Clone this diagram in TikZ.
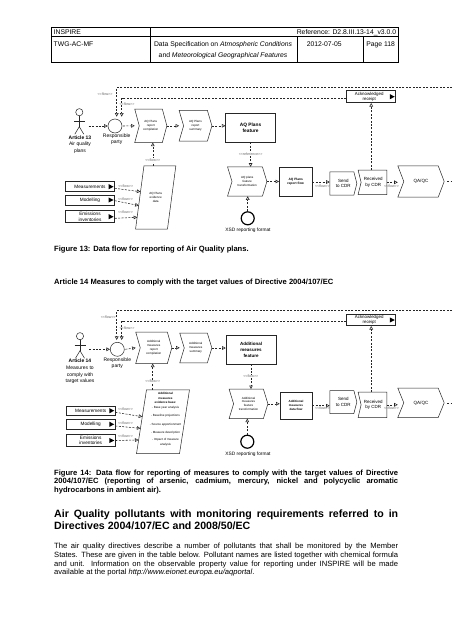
\documentclass[tikz,border=0pt]{standalone}
\usepackage{fontspec}
\setmainfont{Liberation Sans}
\usetikzlibrary{arrows.meta,calc}
\newcommand{\chev}[2]{\draw[shp] (#1.north west) -- ([xshift=-#2pt]#1.north east) -- (#1.east) -- ([xshift=-#2pt]#1.south east) -- (#1.south west) -- ([xshift=#2pt]#1.west) -- cycle;}
\newcommand{\parashp}[2]{\draw[shp] ([xshift=#2pt]#1.north west) -- ([xshift=#2pt]#1.north east) -- ([xshift=-#2pt]#1.south east) -- ([xshift=-#2pt]#1.south west) -- cycle;}
\newcommand{\sendshp}[2]{\draw[shp] (#1.north west) -- ([xshift=-#2pt]#1.north east) -- (#1.east) -- ([xshift=-#2pt]#1.south east) -- (#1.south west) -- cycle;}
\newcommand{\recvshp}[2]{\draw[shp] (#1.north west) -- (#1.north east) -- (#1.south east) -- (#1.south west) -- ([xshift=#2pt]#1.west) -- cycle;}
\newcommand{\blktri}[1]{\fill ([xshift=-6.2pt,yshift=2.6pt]#1.east) -- ([xshift=-1.2pt]#1.east) -- ([xshift=-6.2pt,yshift=-2.6pt]#1.east) -- cycle;}
\newcommand{\actorfig}[2]{%
  \draw[shp] (#1,#2) circle (3.6pt);
  \draw[shp] (#1,#2+3.6) -- (#1,#2+14.5);
  \draw[shp] (#1-5.3,#2+9.5) -- (#1+5.5,#2+9.5);
  \draw[shp] (#1-4.5,#2+22) -- (#1,#2+14.5) -- (#1+4.5,#2+22);}
\newcommand{\flw}{<\kern0pt<flow>\kern0pt>}
\newcommand{\rfr}{<\kern0pt<reference>\kern0pt>}
\begin{document}
\begin{tikzpicture}[x=1pt,y=-1pt,
  shp/.style={draw=black!85, line width=0.5pt},
  flowln/.style={draw=black!85, dash pattern=on 2pt off 1.4pt, line width=0.55pt, -{Triangle[open,length=3.6pt,width=3.6pt]}},
  dashln/.style={draw=black!85, dash pattern=on 2pt off 1.4pt, line width=0.55pt},
  flbl/.style={font=\fontsize{3.6}{4}\selectfont, text=black!60, inner sep=0.4pt},
  box/.style={inner sep=0pt, align=center},
  ptxt/.style={font=\fontsize{3}{3.8}\selectfont},
  inbox/.style={draw=black!85, line width=0.5pt, inner sep=0pt, align=center, minimum width=49pt, font=\fontsize{4.7}{5.4}\selectfont},
  hdr/.style={inner sep=0pt, font=\fontsize{6.8}{8}\selectfont},
  lbl/.style={inner sep=0pt, align=center, font=\fontsize{5}{6.6}\selectfont},
  cdr/.style={box, font=\fontsize{4.5}{5.4}\selectfont},
  ackb/.style={draw=black!85, line width=0.5pt, box, minimum width=49pt, font=\fontsize{4.4}{5}\selectfont},
  xsd/.style={circle, draw=black, line width=1.2pt, minimum size=13pt, inner sep=0pt},
  party/.style={circle, draw=black!85, line width=0.5pt, minimum size=14pt, inner sep=0pt}
]
\useasboundingbox (0,0) rectangle (452,640);
\fill[white] (0,0) rectangle (452,640);

% ---------------- header table
\draw[line width=0.6pt] (51.5,27.7) rectangle (398,62.3);
\draw[line width=0.5pt] (51.5,36.7) -- (398,36.7);
\draw[line width=0.5pt] (150.5,27.7) -- (150.5,62.3);
\draw[line width=0.5pt] (297.7,36.7) -- (297.7,62.3);
\draw[line width=0.5pt] (363.3,36.7) -- (363.3,62.3);
\node[hdr, anchor=base west] (h1) at (53.5,34.3) {INSPIRE};
\node[hdr, anchor=base east] (h2) at (396.3,34.3) {Reference: D2.8.III.13-14\_v3.0.0};
\node[hdr, anchor=base west] (h3) at (53.5,46.7) {TWG-AC-MF};
\node[hdr, anchor=base] (h4) at (223,46.7) {Data Specification on \textit{Atmospheric Conditions}};
\node[hdr, anchor=base] (h5) at (223,57.6) {and \textit{Meteorological Geographical Features}};
\node[hdr, anchor=base] (h6) at (324.2,46.7) {2012-07-05};
\node[hdr, anchor=base] (h7) at (380.7,46.7) {Page 118};

% ================= FIGURE 13
\actorfig{79.3}{112.2}
\node[inner sep=0pt, minimum width=12pt, minimum height=26pt] (a1) at (79.5,121) {};
\node[lbl, anchor=north] (a1t) at (80,135.3) {\textbf{Article 13}\\Air quality\\plans};
\node[party] (c1) at (115,126) {};
\node[lbl, anchor=north, font=\fontsize{5}{5.7}\selectfont] (c1t) at (116.7,134) {Responsible\\party};

\node[box, ptxt, minimum width=31.7pt, minimum height=33pt] (p1) at (150.8,125.8) {AQ Plans\\report\\compilation};
\chev{p1}{4.5}
\node[box, ptxt, minimum width=32.4pt, minimum height=30.3pt] (p2) at (195.5,125.8) {AQ Plans\\report\\summary};
\chev{p2}{4.5}
\node[shp, box, minimum width=49.8pt, minimum height=28.7pt, font=\fontsize{4.8}{5.8}\selectfont\bfseries] (f1) at (250.6,127.7) {AQ Plans\\feature};

\node[box, ptxt, minimum width=31.5pt, minimum height=63pt] (e1) at (155.7,197.5) {AQ Plans\\evidence\\data};
\parashp{e1}{4.2}

\node[inbox, minimum height=10pt] (m1) at (90,186.7) {Measurements};
\node[inbox, minimum height=10pt] (mo1) at (90,200) {Modelling};
\node[inbox, minimum height=12pt] (em1) at (90,216.7) {Emissions\\inventories};
\blktri{m1}\blktri{mo1}\blktri{em1}

\node[box, ptxt, minimum width=39pt, minimum height=29pt] (t1) at (247.2,181.5) {AQ plans\\feature\\transformation};
\chev{t1}{4.5}
\node[xsd] (x1) at (247.7,218.3) {};
\node[lbl, font=\fontsize{4.8}{5.5}\selectfont] (x1t) at (248,230.7) {XSD reporting format};
\node[shp, box, minimum width=32.7pt, minimum height=29.4pt, font=\fontsize{3.2}{4}\selectfont\bfseries] (rf1) at (295.7,182) {AQ Plans\\report flow};
\node[cdr, minimum width=26.7pt, minimum height=23pt] (s1) at (343.3,183.5) {Send\\to CDR};
\sendshp{s1}{3}
\node[cdr, minimum width=28.4pt, minimum height=24pt] (rc1) at (372.5,182.3) {\hspace*{1.5pt}Received\\\hspace*{1.5pt}by CDR};
\recvshp{rc1}{3}
\node[box, font=\fontsize{4.6}{5.4}\selectfont, minimum width=46pt, minimum height=31pt] (q1) at (421,181.5) {QA/QC};
\chev{q1}{6}
\node[ackb, minimum height=12pt] (ack1) at (371.2,96.7) {Acknowledged\hspace*{4pt}\\receipt\hspace*{4pt}};
\blktri{ack1}

% connectors fig 13
\coordinate (rt1) at (452,87.3);
\draw[flowln] (rt1) -| ([xshift=1.7pt,yshift=2pt]c1.north);
\draw[flowln] ([yshift=-1.6pt]ack1.west) -| ([xshift=6.7pt,yshift=2pt]c1.north);
\node[flbl] (l11) at (105,94.6) {\flw};
\node[flbl] (l12) at (127,104.6) {\flw};
\draw[flowln] ([xshift=3pt]a1.east |- c1.west) -- (c1.west);
\draw[flowln] ([xshift=0.8pt]c1.east) -- (p1.west);
\draw[flowln] (p1.east) -- (p2.west);
\draw[flowln] (p2.east) -- (p2.east -| f1.west);
\draw[flowln] ([xshift=2pt]p1.south |- e1.north) -- ([xshift=2pt]p1.south);
\node[flbl, fill=white] (l13) at (152.8,160) {\flw};
\coordinate (e1a) at (140.5,191.7);
\coordinate (e1b) at (138.8,205.5);
\coordinate (e1c) at (137.3,217.3);
\draw[flowln] ([yshift=-1.6pt]m1.east) -- (e1a);
\draw[flowln] ([yshift=-0.7pt]mo1.east) -- (e1b);
\draw[flowln] ([yshift=-1.6pt]em1.east) -- (e1c);
\node[flbl] (l14) at (125.7,186.2) {\flw};
\node[flbl] (l15) at (125.5,199) {\flw};
\node[flbl] (l16) at (125.5,212) {\flw};
\draw[flowln] (f1.south) -- (f1.south |- t1.north);
\node[flbl, fill=white] (l17) at (250.6,154.3) {\rfr};
\draw[flowln] (x1.north) -- (x1.north |- t1.south);
\draw[flowln] (t1.east) -- (t1.east -| rf1.west);
\draw[flowln] (rf1.east) -- (rf1.east -| s1.west);
\node[flbl] (l18) at (322.5,186.5) {\flw};
\draw[flowln] (rc1.east) -- (rc1.east -| q1.west);
\node[flbl] (l19) at (391.5,186.5) {\flw};
\draw[flowln] (ack1.south |- rc1.north) -- (ack1.south);
\coordinate (q1o) at (452,181.5);
\draw[dashln] ([xshift=3pt]q1.east) -- (q1o);

% ---------------- captions
\node[inner sep=0pt, anchor=base west, font=\fontsize{7.6}{8.4}\selectfont\bfseries] (cap13) at (54,251) {Figure 13: Data flow for reporting of Air Quality plans.};
\node[inner sep=0pt, anchor=base west, font=\fontsize{7.6}{8.4}\selectfont\bfseries] (art14) at (54,284.4) {Article 14 Measures to comply with the target values of Directive 2004/107/EC};

% ================= FIGURE 14
\actorfig{80}{336.2}
\node[inner sep=0pt, minimum width=12pt, minimum height=26pt] (a2) at (80,345.5) {};
\node[lbl, anchor=north, font=\fontsize{5}{6.7}\selectfont] (a2t) at (80,359) {\textbf{Article 14}\\Measures to\\comply with\\target values};
\node[party] (c2) at (117.3,349.3) {};
\node[lbl, anchor=north, font=\fontsize{5}{5.9}\selectfont] (c2t) at (117.3,357.4) {Responsible\\party};

\node[box, ptxt, minimum width=35.7pt, minimum height=31pt] (p3) at (153.8,347.8) {Additional\\measures\\report\\compilation};
\chev{p3}{4.5}
\node[box, ptxt, minimum width=31.7pt, minimum height=29.4pt] (p4) at (195.8,348) {Additional\\measures\\summary};
\chev{p4}{4.5}
\node[shp, box, minimum width=50pt, minimum height=28.3pt, font=\fontsize{4.5}{5.8}\selectfont\bfseries] (f2) at (251,349.8) {Additional\\measures\\feature};

\node[box, minimum width=42.6pt, minimum height=63.5pt] (e2) at (163,421.7) {};
\parashp{e2}{5}
\node[box, anchor=north, font=\fontsize{3}{4.5}\selectfont] (e2t) at (165.5,392.6) {\textbf{Additional}\\\textbf{measures}\\\textbf{evidence base:}\\- Base year analysis\\[3.9pt]- Baseline projections\\[3.8pt]- Source apportionment\\[3.5pt]- Measure description\\[3.2pt]- Impact of measure\\analysis};

\node[inbox, minimum height=9.3pt] (m2) at (90.7,410.7) {Measurements};
\node[inbox, minimum height=10pt] (mo2) at (90.7,424.3) {Modelling};
\node[inbox, minimum height=12.4pt] (em2) at (90.7,440.5) {Emissions\\inventories};
\blktri{m2}\blktri{mo2}\blktri{em2}

\node[box, ptxt, minimum width=38.4pt, minimum height=29pt] (t2) at (248.5,403.8) {Additional\\measures\\feature\\transformation};
\chev{t2}{4.5}
\node[xsd] (x2) at (247.3,441.7) {};
\node[lbl, font=\fontsize{4.8}{5.5}\selectfont] (x2t) at (248,454.3) {XSD reporting format};
\node[shp, box, minimum width=32pt, minimum height=26.7pt, font=\fontsize{3}{3.9}\selectfont\bfseries] (df2) at (296,405.7) {Additional\\measures\\data flow};
\node[cdr, minimum width=26.7pt, minimum height=22.6pt] (s2) at (343.3,402) {Send\\to CDR};
\sendshp{s2}{3}
\node[cdr, minimum width=28.4pt, minimum height=25pt] (rc2) at (372.5,404.8) {\hspace*{1.5pt}Received\\\hspace*{1.5pt}by CDR};
\recvshp{rc2}{3}
\node[box, font=\fontsize{4.6}{5.4}\selectfont, minimum width=46pt, minimum height=29pt] (q2) at (421,402.8) {QA/QC};
\chev{q2}{6}
\node[ackb, minimum height=11.4pt] (ack2) at (371.2,320) {Acknowledged\hspace*{4pt}\\receipt\hspace*{4pt}};
\blktri{ack2}

% connectors fig 14
\coordinate (rt2) at (452,310.7);
\draw[flowln] (rt2) -| ([xshift=-0.6pt,yshift=2pt]c2.north);
\draw[flowln] ([yshift=-1.7pt]ack2.west) -| ([xshift=4.4pt,yshift=2pt]c2.north);
\node[flbl] (l21) at (108.3,317) {\flw};
\node[flbl] (l22) at (127,328) {\flw};
\draw[flowln] ([xshift=3pt]a2.east |- c2.west) -- (c2.west);
\draw[flowln] ([xshift=0.8pt]c2.east) -- (p3.west);
\draw[flowln] (p3.east) -- (p3.east -| p4.west);
\draw[flowln] (p4.east) -- (p4.east -| f2.west);
\draw[flowln] ([xshift=-1.1pt]p3.south |- e2.north) -- ([xshift=-1.1pt]p3.south);
\node[flbl, fill=white] (l23) at (152.7,381.7) {\flw};
\coordinate (e2a) at (142.3,416.7);
\coordinate (e2b) at (140.5,428.3);
\coordinate (e2c) at (138.6,440);
\draw[flowln] ([yshift=-1.6pt]m2.east) -- (e2a);
\draw[flowln] ([yshift=-1.7pt]mo2.east) -- (e2b);
\draw[flowln] (em2.east) -- (e2c);
\node[flbl] (l24) at (125.5,409.2) {\flw};
\node[flbl] (l25) at (125.5,423) {\flw};
\node[flbl] (l26) at (125.5,436) {\flw};
\draw[flowln] (f2.south) -- (f2.south |- t2.north);
\node[flbl, fill=white] (l27) at (250.8,376.7) {\flw};
\draw[flowln] (x2.north) -- (x2.north |- t2.south);
\draw[flowln] (t2.east) -- (t2.east -| df2.west);
\draw[flowln] (df2.east) -- (df2.east -| s2.west);
\node[flbl] (l28) at (322.5,408.5) {\flw};
\draw[flowln] (rc2.east) -- (rc2.east -| q2.west);
\node[flbl] (l29) at (391.5,408.5) {\flw};
\draw[flowln] (ack2.south |- rc2.north) -- (ack2.south);
\coordinate (q2o) at (452,402.8);
\draw[dashln] ([xshift=3pt]q2.east) -- (q2o);

% ---------------- text below
\node[inner sep=0pt, anchor=base west, text width=344pt, align=justify, font=\fontsize{7.6}{8.4}\selectfont\bfseries] (cap14) at (54,475.4) {Figure 14: Data flow for reporting of measures to comply with the target values of Directive\linebreak 2004/107/EC (reporting of arsenic, cadmium, mercury, nickel and polycyclic aromatic\linebreak hydrocarbons in ambient air).};
\node[inner sep=0pt, anchor=base west, text width=344pt, align=justify, font=\fontsize{10.6}{11.7}\selectfont\bfseries] (hd) at (54,517.8) {Air Quality pollutants with monitoring requirements referred to in\linebreak Directives 2004/107/EC and 2008/50/EC};
\node[inner sep=0pt, anchor=base west, text width=344pt, align=justify, font=\fontsize{7.6}{8.65}\selectfont] (body) at (54,548.7) {The air quality directives describe a number of pollutants that shall be monitored by the Member\linebreak States. These are given in the table below. Pollutant names are listed together with chemical formula\linebreak and unit. Information on the observable property value for reporting under INSPIRE will be made\linebreak available at the portal \textit{http://www.eionet.europa.eu/aqportal}.};
\end{tikzpicture}
\end{document}
